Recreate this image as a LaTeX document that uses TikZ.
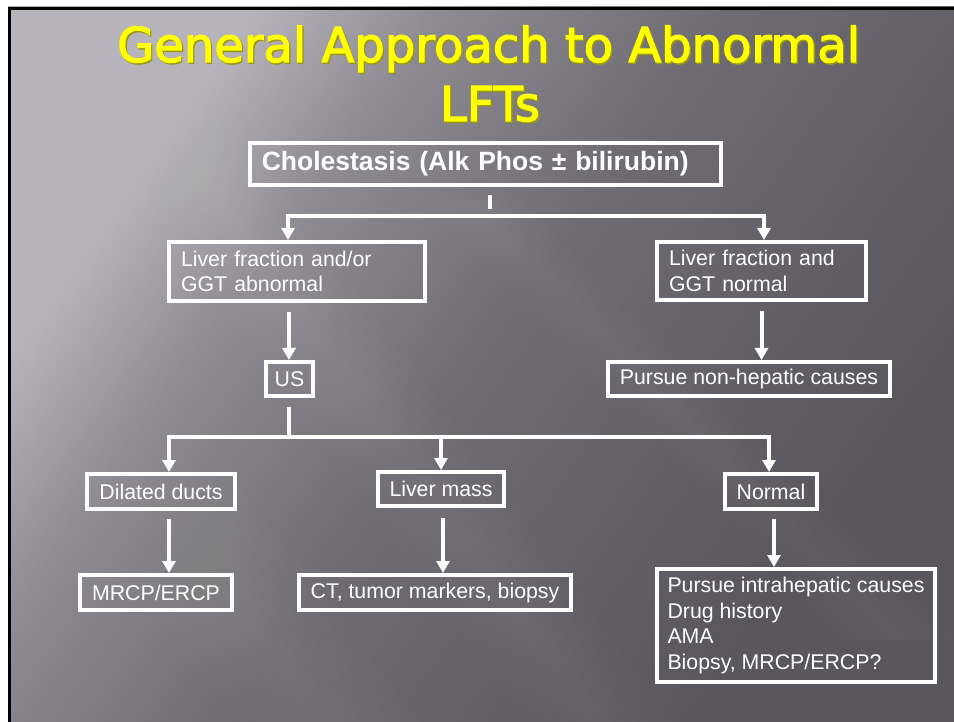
\documentclass[tikz,border=0pt]{standalone}
\usepackage{fontspec}
\setmainfont{Liberation Sans}
\newfontfamily\titlefont[FakeBold=2.5]{DejaVu Sans}
\usetikzlibrary{arrows.meta,calc}
\definecolor{bgA}{HTML}{B6B3BA}
\definecolor{bgB}{HTML}{8E8B92}
\definecolor{bgC}{HTML}{6E6C72}
\definecolor{bgD}{HTML}{59575D}
\definecolor{ttl}{HTML}{FFFF00}
\definecolor{ttlsh}{HTML}{9A9812}
\pgfdeclarehorizontalshading{bgsh}{100bp}{color(0bp)=(bgA); color(27bp)=(bgA); color(36bp)=(bgB); color(50bp)=(bgC); color(72bp)=(bgD); color(100bp)=(bgD)}
\tikzset{
  box/.style={draw=white, line width=4pt, text=white, inner sep=0pt, inner xsep=12pt,
    font=\fontsize{21.3}{25.6}\selectfont},
  lbox/.style={box, align=left},
  cbox/.style={box, align=center},
  ln/.style={draw=white, line width=4pt},
  arr/.style={ln, -{Triangle[width=13pt,length=12pt]}},
  ttlfont/.style={font=\titlefont\fontsize{48}{58}\selectfont, anchor=base, inner sep=0pt}
}
\begin{document}
\begin{tikzpicture}[x=1pt,y=-1pt]
\useasboundingbox (0,0) rectangle (954,722);
\fill[white] (0,0) rectangle (954,722);
\shade[shading=bgsh, shading angle=-35] (8,7) rectangle (954,722);
% soft diagonal streaks
\begin{scope}
\clip (8,7) rectangle (954,722);
\foreach \w in {12,24,...,72} {
  \fill[white, opacity=0.012] (100-\w,40) -- (100+\w,40) -- (600+\w,722) -- (600-\w,722) -- cycle;
}
\foreach \w in {10,20,...,50} {
  \fill[white, opacity=0.012] (470-\w,200) -- (470+\w,200) -- (900+\w,640) -- (900-\w,640) -- cycle;
}
\foreach \w in {15,30,...,90} {
  \fill[white, opacity=0.008] (8-\w,300) -- (8+\w,300) -- (330+\w,722) -- (330-\w,722) -- cycle;
}
\end{scope}
\draw[black, line width=3pt] (9.5,722) -- (9.5,8.5) -- (954,8.5);
% title: shadow and face
\node[ttlfont, text=ttlsh] (t1s) at (489.8,63.5) {General Approach to Abnormal};
\node[ttlfont, text=ttl] (t1) at (488.5,62) {General Approach to Abnormal};
\node[ttlfont, text=ttlsh] (t2s) at (491.3,122.5) {LFTs};
\node[ttlfont, text=ttl] (t2) at (490,121) {LFTs};
% boxes
\node[lbox, font=\bfseries\fontsize{26.5}{30}\selectfont, text width=447pt, minimum height=42pt] (chol) at (485.3,164) {Cholestasis (Alk Phos \textpm{} bilirubin)};
\node[lbox, text width=232pt, minimum height=59pt] (lf1) at (297,271.5) {Liver fraction and/or\\GGT abnormal};
\node[lbox, text width=185pt, minimum height=58pt] (lf2) at (761.5,271) {Liver fraction and\\GGT normal};
\node[cbox, minimum width=47pt, inner xsep=0pt, minimum height=34pt] (us) at (289.5,379) {US};
\node[cbox, minimum width=280pt, minimum height=34pt] (pnh) at (749,379) {Pursue non-hepatic causes};
\node[cbox, minimum width=144pt, minimum height=35pt] (dd) at (161,491.5) {Dilated ducts};
\node[cbox, minimum width=124pt, minimum height=34pt] (lm) at (441,489) {Liver mass};
\node[cbox, minimum width=88pt, minimum height=35pt] (nor) at (771,491.5) {Normal};
\node[cbox, minimum width=148pt, minimum height=35pt] (mrcp) at (156,592.5) {MRCP/ERCP};
\node[cbox, minimum width=272pt, minimum height=35pt] (ct) at (435,592.5) {CT, tumor markers, biopsy};
\node[box, align=left, inner xsep=0pt, minimum width=278pt, minimum height=113pt] (intra) at (796,625.5) {Pursue intrahepatic causes\\Drug history\\AMA\\Biopsy, MRCP/ERCP?};
% connectors
\coordinate (s1) at ($(chol.south)+(4.7,8)$);
\coordinate (s2) at ($(chol.south)+(4.7,22)$);
\draw[ln] (s1) -- (s2);
\coordinate (b1) at (288,216);
\coordinate (b2) at (764,216);
\draw[ln, line cap=rect] (b1) -- (b2);
\draw[arr] (b1) -- (b1 |- lf1.north);
\draw[arr] (b2) -- (b2 |- lf2.north);
\draw[arr] ($(us.north |- lf1.south)+(-0.5,9)$) -- ($(us.north)+(-0.5,0)$);
\coordinate (p0) at ($(lf2.south)+(0,9)$);
\draw[arr] (p0) -- (p0 |- pnh.north);
\coordinate (c0) at ($(us.south)+(-0.5,9)$);
\coordinate (c1) at (169,437);
\coordinate (c2) at (441,437);
\coordinate (c3) at (769,437);
\draw[ln] (c0) -- (c0 |- c1);
\draw[ln, line cap=rect] (c1) -- (c3);
\draw[arr] (c1) -- (c1 |- dd.north);
\draw[arr] (c2) -- (c2 |- lm.north);
\draw[arr] (c3) -- (c3 |- nor.north);
\draw[arr] ($(dd.south)+(8,8)$) -- ($(dd.south |- mrcp.north)+(8,0)$);
\draw[arr] ($(lm.south)+(2,10)$) -- ($(lm.south |- ct.north)+(2,0)$);
\draw[arr] ($(nor.south)+(3,8)$) -- ($(nor.south |- intra.north)+(3,0)$);
\end{tikzpicture}
\end{document}
